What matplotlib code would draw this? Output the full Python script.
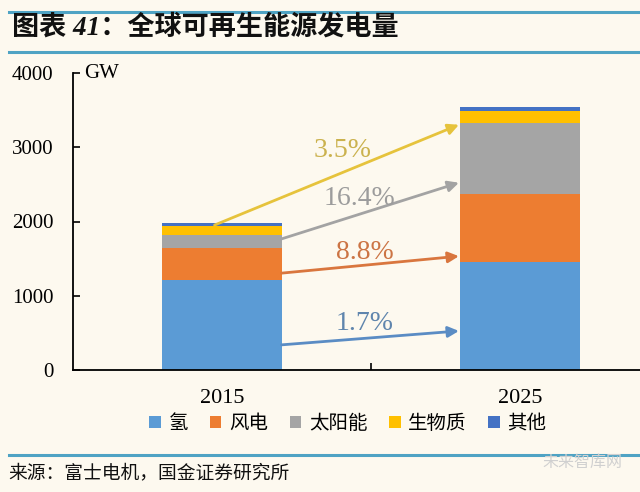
#!/usr/bin/env python3

import numpy as np
import matplotlib
matplotlib.use("Agg")
import matplotlib.pyplot as plt
from matplotlib.lines import Line2D
from matplotlib.patches import Patch

# Data (GW)
years = ["2015", "2025"]
series = ["氢", "风电", "太阳能", "生物质", "其他"]
hydro = [1210, 1460]
wind = [430, 910]
solar = [180, 950]
biomass = [120, 170]
other = [40, 55]
growth = ["1.7%", "8.8%", "16.4%", "3.5%"]  # hydro, wind, solar, biomass

colors = ["#5B9BD5", "#ED7D31", "#A5A5A5", "#FFC000", "#4472C4"]
arrow_colors = ["#5A8CC4", "#D9763E", "#A3A3A3", "#E6C33C"]
text_colors = ["#5F85AD", "#CC7444", "#9C9C9C", "#CBB24E"]
bg = "#FDF9EF"
line_blue = "#4FA3C4"

serif = ["Liberation Serif", "Noto Sans CJK SC"]
plt.rcParams["font.family"] = serif

fig = plt.figure(figsize=(6.4, 4.92), dpi=100, facecolor=bg)
ax = fig.add_axes([73 / 640, 1 - 370 / 492, 596 / 640, 297 / 492])
ax.set_facecolor(bg)

x = np.arange(len(years))
stack = [hydro, wind, solar, biomass, other]
bottom = np.zeros(len(years))
bottoms = []
for vals, c, name in zip(stack, colors, series):
    bottoms.append(bottom.copy())
    ax.bar(x, vals, 0.4, bottom=bottom, color=c, label=name)
    bottom += np.array(vals)

ax.set_xlim(-0.5, 1.5)
ax.set_ylim(0, 4000)
ax.set_yticks([0, 1000, 2000, 3000, 4000])
ax.tick_params(axis="y", direction="in", length=5, width=1.2, pad=14, labelsize=15)
ax.set_xticks([0.5])
ax.set_xticklabels([""])
ax.tick_params(axis="x", direction="in", length=5, width=1.2)
ax.set_xticks(x, minor=True)
ax.set_xticklabels(years, minor=True)
ax.tick_params(axis="x", which="minor", length=0, pad=14, labelsize=16)
for s in ["top", "right"]:
    ax.spines[s].set_visible(False)
ax.spines["left"].set_linewidth(1.3)
ax.spines["bottom"].set_linewidth(1.3)
ax.text(0.018, 4000, "GW", fontsize=15, va="center", ha="left",
        transform=ax.get_yaxis_transform())

# growth arrows from 2015 bar to 2025 bar (start/end as fraction of segment)
start_frac = [0.28, 0.22, 0.70, 1.1]
end_frac = [0.36, 0.08, 0.16, -0.1]
label_pos = [(0.48, 620), (0.48, 1576), (0.46, 2316), (0.405, 2955)]
for i in range(4):
    h0 = stack[i][0]
    h1 = stack[i][1]
    y0 = bottoms[i][0] + start_frac[i] * h0
    y1 = bottoms[i][1] + end_frac[i] * h1
    x0 = 0.2 if i < 3 else -0.025
    ax.annotate("", xy=(0.795, y1), xytext=(x0, y0),
                arrowprops=dict(arrowstyle="-|>", color=arrow_colors[i],
                                lw=2, mutation_scale=16, shrinkA=0, shrinkB=0))
    ax.text(label_pos[i][0], label_pos[i][1], growth[i], color=text_colors[i],
            fontsize=20, ha="center", va="center")

# legend
handles = [Patch(facecolor=c, edgecolor="none") for c in colors]
fig.legend(handles, series, loc="center", bbox_to_anchor=(348 / 640, 1 - 424 / 492),
           ncol=5, frameon=False, handlelength=0.6, handleheight=0.6,
           handletextpad=0.4, columnspacing=1.1,
           prop=dict(family=serif, size=14))

# title block
fig.add_artist(Line2D([9 / 640, 1], [1 - 12 / 492] * 2, color=line_blue, lw=2.2))
fig.add_artist(Line2D([9 / 640, 1], [1 - 52 / 492] * 2, color=line_blue, lw=2.2))
fig.text(12 / 640, 1 - 28 / 492, "图表 41：全球可再生能源发电量", fontsize=19.5,
         fontweight="bold", style="italic", va="center", ha="left", color="#111111")

# footer
fig.add_artist(Line2D([9 / 640, 1], [1 - 455 / 492] * 2, color=line_blue, lw=2.2))
fig.text(8 / 640, 1 - 473 / 492, "来源：富士电机，国金证券研究所", fontsize=13.5,
         va="center", ha="left", color="#111111")
fig.text(542 / 640, 1 - 462 / 492, "未来智库网", fontsize=11.5,
         va="center", ha="left", color="#D0D0D0", family=["Noto Sans CJK SC"])

plt.savefig("out.png", dpi=100, facecolor=bg)
